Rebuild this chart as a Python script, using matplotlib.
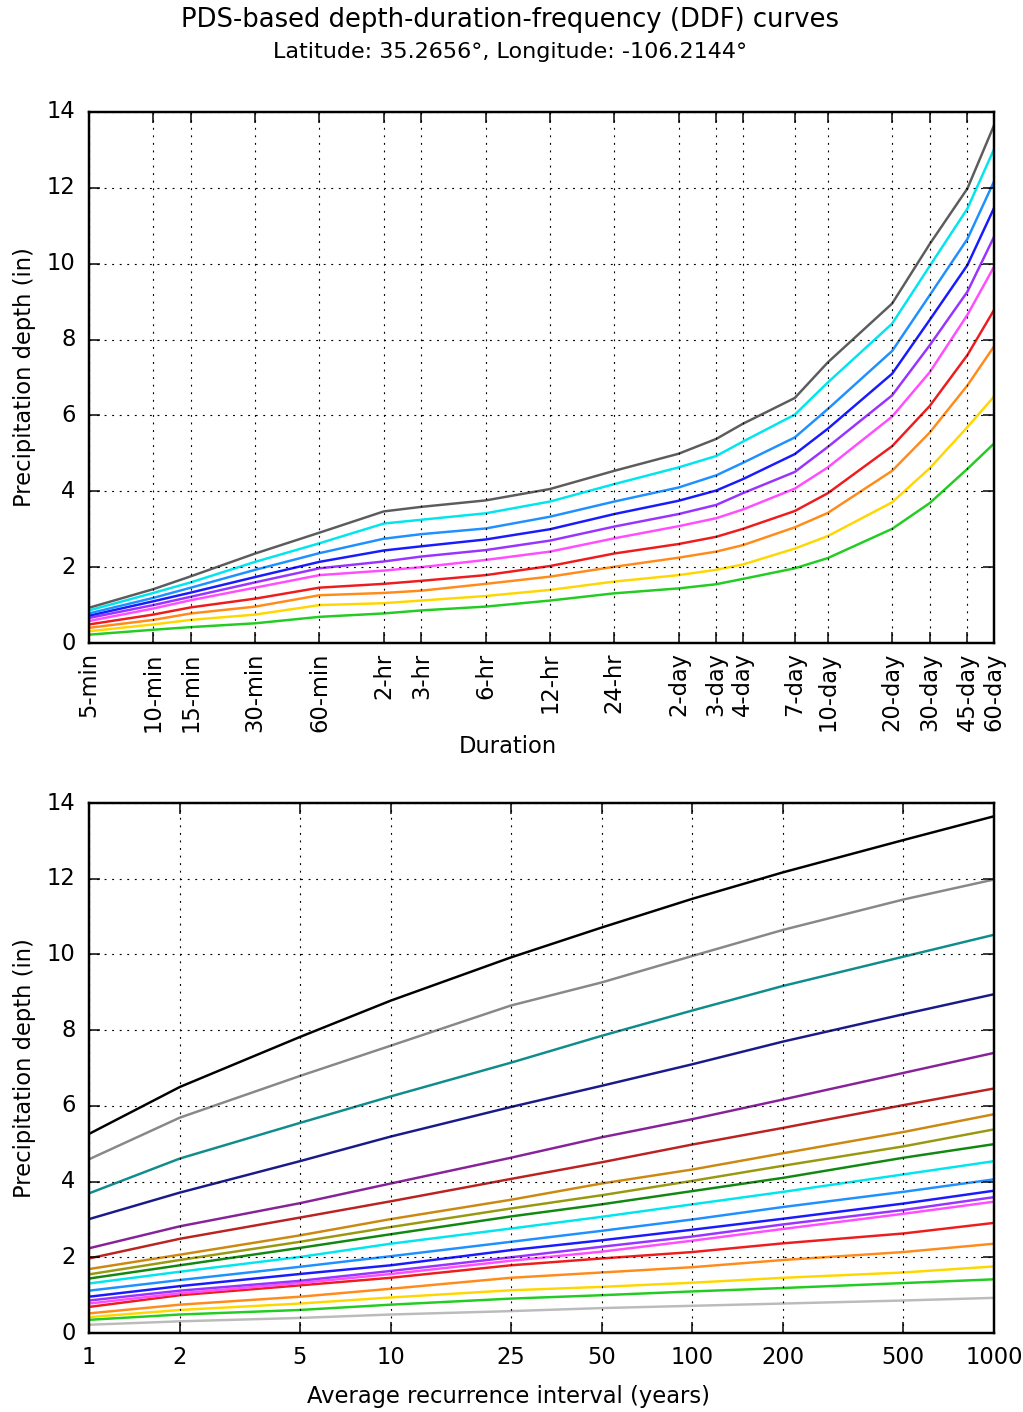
import numpy as np
import matplotlib
matplotlib.use("Agg")
import matplotlib.pyplot as plt
from matplotlib.ticker import FixedLocator, FixedFormatter, NullLocator

# ---- data (inches) ---------------------------------------------------------
durations_min = [5, 10, 15, 30, 60, 120, 180, 360, 720, 1440,
                 2880, 4320, 5760, 10080, 14400, 28800, 43200, 64800, 86400]
duration_labels = ["5-min", "10-min", "15-min", "30-min", "60-min", "2-hr", "3-hr",
                   "6-hr", "12-hr", "24-hr", "2-day", "3-day", "4-day", "7-day",
                   "10-day", "20-day", "30-day", "45-day", "60-day"]
ari_years = [1, 2, 5, 10, 25, 50, 100, 200, 500, 1000]

# depth per recurrence interval, one value per duration
depth_1yr = [0.22, 0.35, 0.42, 0.52, 0.69, 0.78, 0.86, 0.96, 1.12, 1.31,
             1.44, 1.55, 1.69, 1.97, 2.24, 3.01, 3.69, 4.59, 5.26]
depth_2yr = [0.31, 0.49, 0.61, 0.75, 1.00, 1.05, 1.12, 1.24, 1.40, 1.62,
             1.79, 1.93, 2.07, 2.49, 2.82, 3.71, 4.61, 5.69, 6.50]
depth_5yr = [0.40, 0.61, 0.78, 0.96, 1.26, 1.32, 1.38, 1.56, 1.75, 2.01,
             2.25, 2.41, 2.58, 3.05, 3.43, 4.54, 5.55, 6.79, 7.82]
depth_10yr = [0.49, 0.75, 0.94, 1.17, 1.46, 1.56, 1.64, 1.79, 2.03, 2.36,
              2.61, 2.80, 3.01, 3.48, 3.95, 5.19, 6.25, 7.59, 8.78]
depth_25yr = [0.58, 0.91, 1.13, 1.46, 1.79, 1.91, 2.00, 2.19, 2.41, 2.76,
              3.08, 3.29, 3.52, 4.07, 4.63, 5.97, 7.14, 8.65, 9.92]
depth_50yr = [0.66, 1.00, 1.22, 1.60, 1.97, 2.15, 2.28, 2.45, 2.70, 3.07,
              3.40, 3.64, 3.95, 4.51, 5.17, 6.53, 7.85, 9.26, 10.71]
depth_100yr = [0.72, 1.10, 1.33, 1.74, 2.14, 2.44, 2.55, 2.73, 3.00, 3.40,
               3.75, 4.02, 4.32, 4.98, 5.65, 7.10, 8.52, 9.96, 11.47]
depth_200yr = [0.78, 1.19, 1.46, 1.93, 2.37, 2.75, 2.87, 3.02, 3.33, 3.73,
               4.10, 4.42, 4.75, 5.42, 6.17, 7.70, 9.17, 10.65, 12.17]
depth_500yr = [0.86, 1.32, 1.60, 2.14, 2.63, 3.15, 3.25, 3.42, 3.73, 4.19,
               4.63, 4.93, 5.31, 6.02, 6.87, 8.42, 9.94, 11.45, 13.02]
depth_1000yr = [0.93, 1.42, 1.76, 2.36, 2.91, 3.47, 3.59, 3.76, 4.06, 4.54,
                4.99, 5.38, 5.78, 6.46, 7.40, 8.95, 10.52, 11.98, 13.65]

ari_colors = ["#22cc22", "#ffd700", "#ff8c1a", "#ee1c1c", "#ff4dff",
              "#9933ff", "#1a1aff", "#1e90ff", "#00e5ee", "#5c5c5c"]
dur_colors = ["#bbbbbb", "#22cc22", "#ffd700", "#ff8c1a", "#ee1c1c", "#ff4dff",
              "#9933ff", "#1a1aff", "#1e90ff", "#00e5ee", "#118811", "#999911",
              "#cc8811", "#bb2222", "#882299", "#1a1a88", "#118c8c", "#888888",
              "#000000"]

# ---- figure -----------------------------------------------------------------
plt.style.use("classic")
plt.rcParams["figure.facecolor"] = "white"
plt.rcParams["savefig.facecolor"] = "white"
plt.rcParams["font.family"] = ["DejaVu Sans"]

DPI = 136
fig = plt.figure(figsize=(1023 / DPI, 1412 / DPI), dpi=DPI)
ax1 = fig.add_axes([0.087, 0.5446, 0.8847, 0.3761])
ax2 = fig.add_axes([0.087, 0.0559, 0.8847, 0.3754])

depths = np.array([depth_1yr, depth_2yr, depth_5yr, depth_10yr, depth_25yr,
                   depth_50yr, depth_100yr, depth_200yr, depth_500yr, depth_1000yr])

for i, ari in enumerate(ari_years):
    ax1.plot(durations_min, depths[i], color=ari_colors[i], lw=1.3)
for j, lab in enumerate(duration_labels):
    ax2.plot(ari_years, depths[:, j], color=dur_colors[j], lw=1.3)

def style(ax):
    ax.set_xscale("log")
    ax.set_ylim(0, 14)
    ax.set_yticks(range(0, 15, 2))
    ax.xaxis.set_minor_locator(NullLocator())
    ax.grid(True, which="major", color="k", linestyle=":", lw=0.6)
    ax.tick_params(which="major", direction="in", length=6, width=0.8,
                   top=True, right=True, labelsize=12)
    ax.tick_params(axis="y", pad=7)
    for s in ax.spines.values():
        s.set_linewidth(1.3)
    ax.set_ylabel("Precipitation depth (in)", fontsize=12)
    ax.yaxis.set_label_coords(-0.059, 0.5)

style(ax1)
ax1.set_xlim(durations_min[0], durations_min[-1])
ax1.xaxis.set_major_locator(FixedLocator(durations_min))
ax1.xaxis.set_major_formatter(FixedFormatter(duration_labels))
ax1.tick_params(axis="x", pad=5)
plt.setp(ax1.get_xticklabels(), rotation=90)
ax1.set_xlabel("Duration", fontsize=12)
ax1.xaxis.set_label_coords(0.463, -0.173)

style(ax2)
ax2.set_xlim(ari_years[0], ari_years[-1])
ax2.xaxis.set_major_locator(FixedLocator(ari_years))
ax2.xaxis.set_major_formatter(FixedFormatter([str(a) for a in ari_years]))
ax2.tick_params(axis="x", pad=7)
ax2.set_xlabel("Average recurrence interval (years)", fontsize=12)
ax2.xaxis.set_label_coords(0.463, -0.098)

fig.text(0.4985, 0.9855, "PDS-based depth-duration-frequency (DDF) curves",
         ha="center", va="center", fontsize=13.7)
fig.text(0.4985, 0.9635, "Latitude: 35.2656\u00b0, Longitude: -106.2144\u00b0",
         ha="center", va="center", fontsize=11.8)

fig.savefig("out.png", dpi=DPI)
